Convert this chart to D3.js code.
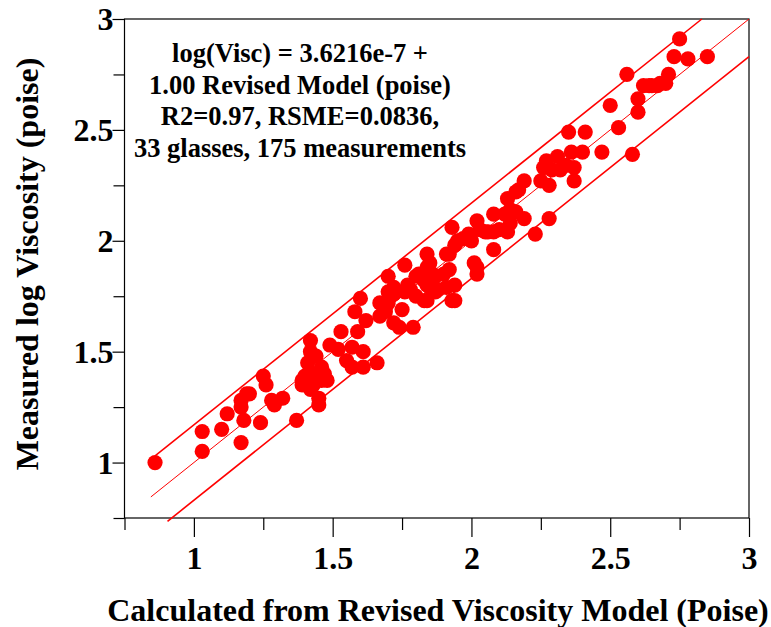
<!DOCTYPE html>
<html>
<head>
<meta charset="utf-8">
<script src="https://cdn.jsdelivr.net/npm/d3@7"></script>
<style>
  html, body { margin: 0; padding: 0; background: #fff; }
  svg { display: block; }
  text { font-family: "Liberation Serif", "Times New Roman", serif; font-weight: bold; fill: #000; }
</style>
</head>
<body>
<svg id="chart" width="771" height="627"></svg>
<script>
// ---- data ----
const calcX = [
  0.86,1.03,1.03,1.10,1.12,1.17,1.18,1.17,1.17,1.20,1.24,1.25,1.26,1.28,1.29,1.32,1.37,1.39,1.40,1.42,
  1.45,1.46,1.45,1.48,1.42,1.42,1.41,1.44,1.46,1.49,1.52,1.53,1.55,1.57,1.57,1.61,1.61,1.66,1.58,1.60,
  1.59,1.62,1.67,1.67,1.69,1.72,1.72,1.70,1.72,1.77,1.76,1.79,1.80,1.83,1.84,1.87,1.87,1.70,1.70,1.69,
  1.76,1.78,1.80,1.84,1.81,1.84,1.84,1.86,1.85,1.88,1.90,1.91,1.92,1.94,1.94,1.93,1.94,1.97,1.99,2.02,
  2.02,2.02,2.03,2.08,2.08,2.06,2.10,2.14,2.14,2.13,2.16,2.19,2.23,2.28,2.50,2.35,2.41,2.53,2.47,2.58,
  2.36,2.40,2.31,2.27,2.34,2.26,2.29,2.37,2.37,2.25,2.28,2.19,2.17,2.12,2.16,2.75,2.73,2.78,2.85,2.56,
  2.71,2.70,2.67,2.64,2.60,2.60,1.43,1.19,1.95,2.00,2.05,2.08,2.13,1.92,1.85,1.83,1.91,1.93,2.01,1.74,
  1.75,2.62,2.65,2.68,2.32,1.39,1.43,1.47
];
const measuredY = [
  1.00,1.14,1.05,1.15,1.22,1.09,1.19,1.28,1.25,1.31,1.18,1.39,1.35,1.28,1.26,1.29,1.19,1.35,1.39,1.33,
  1.26,1.37,1.29,1.37,1.55,1.50,1.45,1.48,1.43,1.53,1.51,1.59,1.46,1.52,1.43,1.50,1.43,1.45,1.68,1.74,
  1.59,1.64,1.72,1.66,1.70,1.76,1.63,1.84,1.79,1.80,1.77,1.61,1.84,1.73,1.80,1.77,1.84,1.77,1.72,1.68,
  1.89,1.78,1.75,1.73,1.85,1.94,1.88,1.85,1.79,1.78,1.85,1.94,1.87,1.80,1.73,2.06,1.98,2.01,2.03,1.88,
  1.85,2.09,2.05,2.12,1.96,2.04,2.05,2.08,2.14,2.19,2.22,2.10,2.03,2.10,2.61,2.49,2.49,2.51,2.40,2.39,
  2.40,2.40,2.38,2.36,2.34,2.33,2.32,2.33,2.27,2.27,2.25,2.27,2.23,2.12,2.13,2.91,2.83,2.82,2.83,2.75,
  2.75,2.71,2.70,2.70,2.64,2.58,1.35,1.31,2.00,2.00,2.04,2.04,2.04,1.94,1.90,1.82,1.79,1.73,1.90,1.61,
  1.69,2.70,2.70,2.71,2.32,1.37,1.40,1.40
];
const xTickMajor = [1, 1.5, 2, 2.5, 3];
const xTickMinor = [0.75, 1.25, 1.75, 2.25, 2.75];
const yTickMajor = [1, 1.5, 2, 2.5, 3];
const yTickMinor = [0.75, 1.25, 1.75, 2.25, 2.75];
const bandOffset = 0.17;          // prediction band half-width (log units)
const identityRange = [0.845, 3.0];
const upperRange = [0.86, 2.83];
const lowerRange = [0.905, 3.0];
const annotationLines = [
  "log(Visc) = 3.6216e-7 +",
  "1.00 Revised Model (poise)",
  "R2=0.97, RSME=0.0836,",
  "33 glasses, 175 measurements"
];
const xTitle = "Calculated from Revised Viscosity Model (Poise)";
const yTitle = "Measured log Viscosity (poise)";

// ---- layout ----
const L = 124.5, R = 749, T = 19, B = 518;
const svg = d3.select("#chart");
const x = d3.scaleLinear().domain([0.75, 3]).range([L, R]);
const y = d3.scaleLinear().domain([0.75, 3]).range([B, T]);

const fmt = d => d3.format("")(d);

// x axis major / minor
const gx = svg.append("g").attr("transform", `translate(0,${B})`);
gx.call(d3.axisBottom(x).tickValues(xTickMajor).tickSize(19).tickSizeOuter(0).tickFormat(fmt));
gx.select(".domain").remove();
gx.selectAll(".tick line").attr("stroke", "#000").attr("stroke-width", 1.2);
gx.selectAll(".tick text").attr("font-size", 32).attr("y", 51).attr("dy", 0)
  .attr("font-family", "Liberation Serif").attr("font-weight", "bold");
const gxm = svg.append("g").attr("transform", `translate(0,${B})`);
gxm.call(d3.axisBottom(x).tickValues(xTickMinor).tickSize(12).tickSizeOuter(0).tickFormat(""));
gxm.select(".domain").remove();
gxm.selectAll(".tick line").attr("stroke", "#000").attr("stroke-width", 1.2);

// y axis major / minor
const gy = svg.append("g").attr("transform", `translate(${L},0)`);
gy.call(d3.axisLeft(y).tickValues(yTickMajor).tickSize(12).tickSizeOuter(0).tickFormat(fmt));
gy.select(".domain").remove();
gy.selectAll(".tick line").attr("stroke", "#000").attr("stroke-width", 1.2);
gy.selectAll(".tick text").attr("font-size", 32).attr("x", -11).attr("dy", "0.34em")
  .attr("font-family", "Liberation Serif").attr("font-weight", "bold");
const gym = svg.append("g").attr("transform", `translate(${L},0)`);
gym.call(d3.axisLeft(y).tickValues(yTickMinor).tickSize(11).tickSizeOuter(0).tickFormat(""));
gym.select(".domain").remove();
gym.selectAll(".tick line").attr("stroke", "#000").attr("stroke-width", 1.2);

// frame
svg.append("rect").attr("x", L).attr("y", T).attr("width", R - L).attr("height", B - T)
  .attr("fill", "none").attr("stroke", "#000").attr("stroke-width", 1.2);

// lines
const lineGen = d3.line().x(d => x(d[0])).y(d => y(d[1]));
const mkLine = (rng, off) => rng.map(v => [v, v + off]);
svg.append("path").attr("d", lineGen(mkLine(identityRange, 0)))
  .attr("stroke", "#ff0000").attr("stroke-width", 1).attr("fill", "none");
svg.append("path").attr("d", lineGen(mkLine(upperRange, bandOffset)))
  .attr("stroke", "#ff0000").attr("stroke-width", 1.6).attr("fill", "none");
svg.append("path").attr("d", lineGen(mkLine(lowerRange, -bandOffset)))
  .attr("stroke", "#ff0000").attr("stroke-width", 1.6).attr("fill", "none");

// points
svg.append("g").selectAll("circle").data(calcX.map((v, i) => [v, measuredY[i]]))
  .join("circle")
  .attr("cx", d => x(d[0])).attr("cy", d => y(d[1])).attr("r", 7.6)
  .attr("fill", "#ff0000");

// annotation
const ann = svg.append("text").attr("text-anchor", "middle").attr("font-size", 26.5);
annotationLines.forEach((s, i) => {
  ann.append("tspan").attr("x", 300).attr("y", 62 + i * 31.7).text(s);
});

// titles
svg.append("text").attr("x", 438).attr("y", 621).attr("text-anchor", "middle")
  .attr("font-size", 32).text(xTitle);
svg.append("text").attr("transform", "translate(38,264) rotate(-90)")
  .attr("text-anchor", "middle").attr("font-size", 32).text(yTitle);
</script>
</body>
</html>
